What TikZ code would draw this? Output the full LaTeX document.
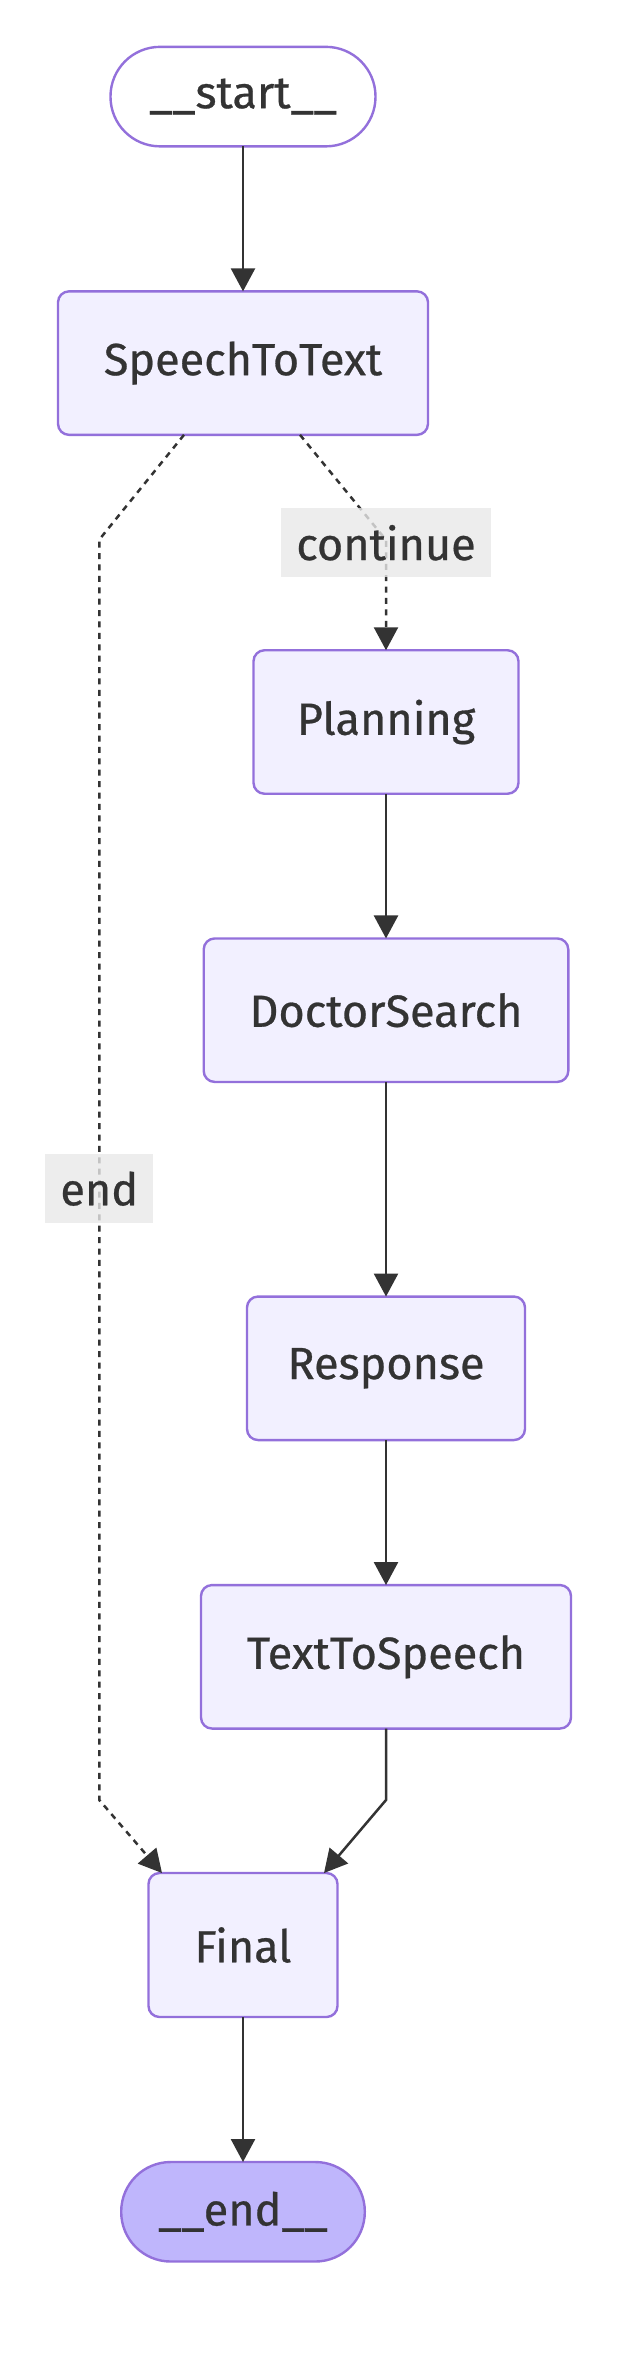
\documentclass[tikz,border=0pt]{standalone}
\usepackage{fontspec}
\setmainfont{Fira Sans}[UprightFeatures={FakeBold=0.6}]
\usepackage{xcolor}
\usetikzlibrary{arrows.meta, positioning, calc}
\definecolor{nodefill}{HTML}{F2F0FF}
\definecolor{nodeline}{HTML}{9370DB}
\definecolor{lastfill}{HTML}{BFB6FC}
\definecolor{edgeline}{HTML}{333333}
\definecolor{labelfill}{HTML}{E8E8E8}

\begin{document}
\begin{tikzpicture}[
    x=1pt, y=-1pt,
    every node/.style={font=\fontsize{45}{53}\selectfont, text=edgeline, outer sep=0pt},
    proc/.style={draw=nodeline, line width=2.4pt, fill=nodefill, rounded corners=11pt,
      minimum width=#1, minimum height=143.5pt, inner sep=0pt},
    term/.style={draw=nodeline, line width=2.4pt, fill=#1, rounded corners=49.5pt,
      minimum height=99.5pt, inner sep=0pt},
    elabel/.style={fill=labelfill, fill opacity=0.8, text opacity=1, minimum height=69pt,
      inner xsep=15pt, inner ysep=0pt},
    flow/.style={-{Triangle[width=24pt, length=23pt]}, line width=2.5pt, draw=edgeline},
    cond/.style={flow, dash pattern=on 6pt off 5.4pt}
]
\useasboundingbox (0,0) rectangle (618,2361);

% Entry and speech input
\node[term=white, minimum width=265pt] (start) at (243,96.6) {\_\_start\_\_};
\node[proc=370pt, below=145pt of start] (stt) {SpeechToText};

% Main chain
\node[proc=265pt] (plan) at (386,722) {Planning};
\node[proc=364.6pt, below=144.7pt of plan] (doctor) {DoctorSearch};
\node[proc=278pt, below=214.6pt of doctor] (resp) {Response};
\node[proc=370pt, below=145pt of resp] (tts) {TextToSpeech};

% Exit
\node[proc=189pt, minimum height=144pt] (final) at (243,1945) {Final};
\node[term=lastfill, minimum width=243.6pt, below=145pt of final] (end) {\_\_end\_\_};

% Bends
\coordinate (lbend) at (99.3,539.6);
\coordinate (rbend) at (386,540);
\coordinate (lfoot) at (99.3,1800);
\coordinate (tfoot) at (386,1800);

% Arrows
\draw[flow] (start) -- (stt);
\draw[cond] ($(stt.south)+(57,0)$) -- (rbend) -- node[elabel, pos=0.025] {continue} (plan.north);
\draw[cond] ($(stt.south)+(-59,0)$) -- (lbend) -- node[elabel, pos=0.515] {end} (lfoot)
  -- ($(final.north)+(-81,0)$);
\draw[flow] (plan) -- (doctor);
\draw[flow] (doctor) -- (resp);
\draw[flow] (resp) -- (tts);
\draw[flow] (tts.south) -- (tfoot) -- ($(final.north)+(81,0)$);
\draw[flow] (final) -- (end);

\end{tikzpicture}
\end{document}
